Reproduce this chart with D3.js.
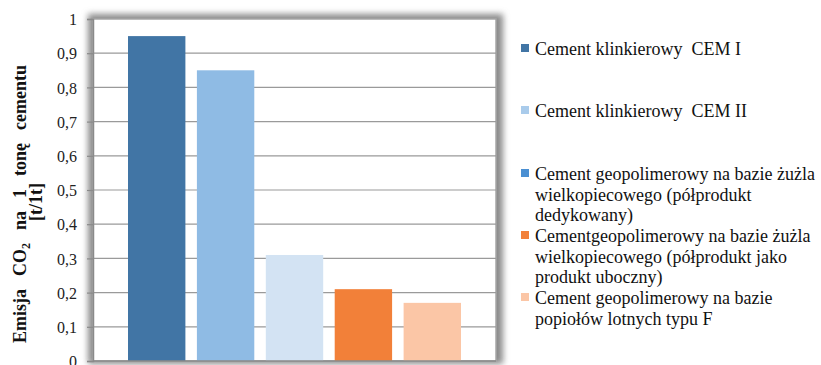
<!DOCTYPE html>
<html><head><meta charset="utf-8">
<script src="https://cdn.jsdelivr.net/npm/d3@7"></script>
<style>
html,body{margin:0;padding:0;background:#fff;}
svg{display:block;}
svg text{font-family:"Liberation Serif","DejaVu Serif","Times New Roman",serif;}
</style></head>
<body>
<svg id="c" width="821" height="365"></svg>
<script>
const categories = [
  "Cement klinkierowy CEM I",
  "Cement klinkierowy CEM II",
  "Cement geopolimerowy na bazie żużla wielkopiecowego (półprodukt dedykowany)",
  "Cementgeopolimerowy na bazie żużla wielkopiecowego (półprodukt jako produkt uboczny)",
  "Cement geopolimerowy na bazie popiołów lotnych typu F"
];
const values = [0.95, 0.85, 0.31, 0.21, 0.17];
const barColors = ["#4175a5", "#8fbbe4", "#d3e3f3", "#f28039", "#fbc6a6"];
const legendColors = ["#4175a5", "#a9cbeb", "#4a8fd2", "#f28039", "#fbc6a6"];
const legendLines = [
  ["Cement klinkierowy  CEM I"],
  ["Cement klinkierowy  CEM II"],
  ["Cement geopolimerowy na bazie żużla", "wielkopiecowego (półprodukt", "dedykowany)"],
  ["Cementgeopolimerowy na bazie żużla", "wielkopiecowego (półprodukt jako", "produkt uboczny)"],
  ["Cement geopolimerowy na bazie", "popiołów lotnych typu F"]
];
const yTicks = [0, 0.1, 0.2, 0.3, 0.4, 0.5, 0.6, 0.7, 0.8, 0.9, 1];
const yTickLabels = ["0", "0,1", "0,2", "0,3", "0,4", "0,5", "0,6", "0,7", "0,8", "0,9", "1"];

const SERIF = "'Liberation Serif','DejaVu Serif','Times New Roman',serif";
const svg = d3.select("#c");
const plot = {l: 93, r: 496, t: 19, b: 361};

const y = d3.scaleLinear().domain([0, 1]).range([plot.b, plot.t]);
const x = d3.scaleBand().domain(categories).range([128, 461]).paddingInner(0.167).paddingOuter(0);

const defs = svg.append("defs");
const f = defs.append("filter").attr("id", "sh").attr("x", "-10%").attr("y", "-10%").attr("width", "120%").attr("height", "120%");
f.append("feGaussianBlur").attr("stdDeviation", 3);

// shadow frame
svg.append("rect").attr("x", plot.l - 5).attr("y", plot.t - 5)
  .attr("width", plot.r - plot.l + 12).attr("height", plot.b - plot.t + 8)
  .attr("fill", "#8a8a8a").attr("filter", "url(#sh)");
svg.append("rect").attr("x", plot.l).attr("y", plot.t)
  .attr("width", plot.r - plot.l).attr("height", plot.b - plot.t)
  .attr("fill", "#fff").attr("stroke", "#a6a6a6").attr("stroke-width", 1.5);

// gridlines
svg.append("g").selectAll("line").data(yTicks.slice(1, -1)).join("line")
  .attr("x1", plot.l).attr("x2", plot.r)
  .attr("y1", d => y(d)).attr("y2", d => y(d))
  .attr("stroke", "#9a9a9a").attr("stroke-width", 1.2);

// y axis
const yAxis = d3.axisLeft(y).tickValues(yTicks).tickSize(6)
  .tickFormat((d, i) => yTickLabels[i]);
const ga = svg.append("g").attr("transform", `translate(${plot.l},0)`).call(yAxis)
  .attr("font-family", SERIF);
ga.select(".domain").attr("stroke", "#8a8a8a").attr("stroke-width", 1.5);
ga.selectAll(".tick line").attr("stroke", "#8a8a8a").attr("stroke-width", 1.2);
ga.selectAll(".tick text").attr("x", -16).attr("dy", "0.35em")
  .attr("font-family", SERIF).attr("font-size", 16).attr("fill", "#222");

// bars
svg.append("g").selectAll("rect").data(values).join("rect")
  .attr("x", (d, i) => x(categories[i]))
  .attr("width", x.bandwidth())
  .attr("y", d => y(d))
  .attr("height", d => y(0) - y(d))
  .attr("fill", (d, i) => barColors[i]);

// bottom axis line
svg.append("line").attr("x1", plot.l).attr("x2", plot.r).attr("y1", plot.b).attr("y2", plot.b)
  .attr("stroke", "#8a8a8a").attr("stroke-width", 1.5);

// y title
const t1 = svg.append("text").attr("transform", "translate(26,204) rotate(-90)")
  .attr("text-anchor", "middle").attr("font-weight", "bold").attr("font-size", 18)
  .attr("word-spacing", 2)
  .attr("font-family", SERIF).attr("xml:space", "preserve").attr("fill", "#111");
t1.append("tspan").text("Emisja  CO");
t1.append("tspan").attr("font-size", 12).attr("dy", 4).text("2");
t1.append("tspan").attr("dy", -4).text("  na  1  tonę  cementu");
svg.append("text").attr("transform", "translate(42,202) rotate(-90)")
  .attr("text-anchor", "middle").attr("font-weight", "bold").attr("font-size", 18)
  .attr("font-family", SERIF).attr("fill", "#111").text("[t/1t]");

// legend
const entryY = [55, 117, 180, 242, 304];
const lg = svg.append("g");
legendLines.forEach((lines, i) => {
  lg.append("rect").attr("x", 521).attr("y", entryY[i] - 11).attr("width", 8).attr("height", 8)
    .attr("fill", legendColors[i]);
  lines.forEach((ln, j) => {
    lg.append("text").attr("x", 535).attr("y", entryY[i] + j * 20.7)
      .attr("font-family", SERIF).attr("font-size", 18).attr("fill", "#111")
      .attr("xml:space", "preserve").text(ln);
  });
});
</script>
</body></html>
